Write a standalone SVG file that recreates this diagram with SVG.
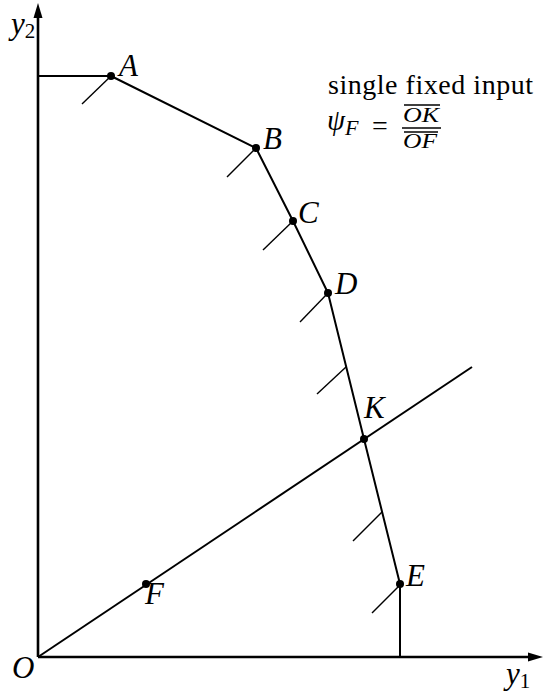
<svg xmlns="http://www.w3.org/2000/svg" width="544" height="695" viewBox="0 0 544 695">
<defs>
<style>
.ax{stroke:#000;stroke-width:2.6;fill:none}
.ln{stroke:#000;stroke-width:2;fill:none;stroke-linejoin:round}
.ht{stroke:#000;stroke-width:1.4;fill:none}
.bar{stroke:#000;stroke-width:1.3}
.lb{font-family:'Liberation Serif',serif;font-style:italic;font-size:31px;fill:#000}
.rm{font-family:'Liberation Serif',serif;font-size:28px;fill:#000}
.dot{fill:#000}
</style>
</defs>
<rect width="544" height="695" fill="#fff"/>
<g id="axes">
<line class="ax" x1="38" y1="657" x2="38" y2="12"/>
<polygon points="38,3 33.5,18 42.5,18" fill="#000"/>
<line class="ax" x1="38" y1="657" x2="532" y2="657"/>
<polygon points="543,657 528,652.5 528,661.5" fill="#000"/>
</g>
<g id="connectors">
<polyline class="ln" points="38,76 111,76 256,148 293,221 328,293 364,439 400,584 400,657"/>
<line class="ln" x1="38" y1="657" x2="472" y2="367"/>
<g class="hatches">
<line class="ht" x1="111" y1="76" x2="82" y2="104"/>
<line class="ht" x1="256" y1="148" x2="227" y2="177"/>
<line class="ht" x1="293" y1="221" x2="263" y2="250"/>
<line class="ht" x1="328" y1="293" x2="300" y2="322"/>
<line class="ht" x1="346" y1="367" x2="317" y2="394"/>
<line class="ht" x1="382" y1="512" x2="353" y2="541"/>
<line class="ht" x1="400" y1="585" x2="372" y2="613"/>
</g>
</g>
<g id="A"><circle class="dot" cx="111" cy="76" r="4"/><text class="lb" x="119" y="76">A</text></g>
<g id="B"><circle class="dot" cx="256" cy="148" r="4"/><text class="lb" x="263" y="149">B</text></g>
<g id="C"><circle class="dot" cx="293" cy="221" r="4"/><text class="lb" x="298" y="223">C</text></g>
<g id="D"><circle class="dot" cx="328" cy="293" r="4"/><text class="lb" x="335" y="294">D</text></g>
<g id="K"><circle class="dot" cx="364" cy="439" r="4"/><text class="lb" x="364" y="418">K</text></g>
<g id="E"><circle class="dot" cx="400" cy="584" r="4"/><text class="lb" x="406" y="586">E</text></g>
<g id="F"><circle class="dot" cx="146" cy="584" r="4"/><text class="lb" x="145" y="604">F</text></g>
<g id="O"><text class="lb" x="12" y="678">O</text></g>
<g id="y2label"><text class="lb" x="11" y="34">y<tspan style="font-size:21px;font-style:normal" dy="4">2</tspan></text></g>
<g id="y1label"><text class="lb" x="506" y="684">y<tspan style="font-size:21px;font-style:normal" dy="4">1</tspan></text></g>
<g id="note">
<text class="rm" x="328" y="94" textLength="205" lengthAdjust="spacing">single fixed input</text>
<text class="lb" x="327" y="130" style="font-size:29px">ψ<tspan style="font-size:22px" dy="5">F</tspan></text>
<text class="rm" x="372" y="135">=</text>
<line class="bar" x1="404" y1="105" x2="440" y2="105"/>
<text class="lb" x="403" y="122" style="font-size:22px" textLength="36" lengthAdjust="spacingAndGlyphs">OK</text>
<line class="bar" x1="402" y1="128" x2="441" y2="128"/>
<line class="bar" x1="404" y1="132" x2="438" y2="132"/>
<text class="lb" x="403" y="148" style="font-size:22px" textLength="34" lengthAdjust="spacingAndGlyphs">OF</text>
</g>
</svg>
